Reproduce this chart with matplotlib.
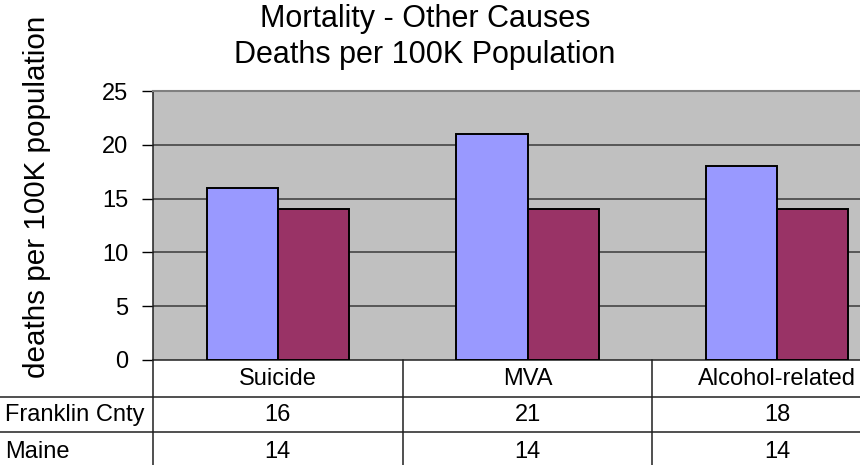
import numpy as np
import matplotlib
matplotlib.use('Agg')
import matplotlib.pyplot as plt
from matplotlib.lines import Line2D

plt.rcParams['font.family'] = ['Liberation Sans', 'DejaVu Sans']

categories = ['Suicide', 'MVA', 'Alcohol-related']
series_names = ['Franklin Cnty', 'Maine']
franklin = [16, 21, 18]
maine = [14, 14, 14]
colors = ['#9999FF', '#993366']
yticks = [0, 5, 10, 15, 20, 25]

W, H = 860, 465
fig = plt.figure(figsize=(W / 100, H / 100), dpi=100)
fig.patch.set_facecolor('white')

# plot area runs off the right edge like the original screenshot
left, right, top, bottom = 153, 902, 91, 360
ax = fig.add_axes([left / W, 1 - bottom / H, (right - left) / W, (bottom - top) / H])
ax.set_facecolor('#C0C0C0')

x = np.arange(len(categories))
bw = 0.285
ax.bar(x - bw / 2, franklin, bw, color=colors[0], edgecolor='black', linewidth=1.4, zorder=3)
ax.bar(x + bw / 2, maine, bw, color=colors[1], edgecolor='black', linewidth=1.4, zorder=3)

ax.set_xlim(-0.5, len(categories) - 0.5)
ax.set_ylim(0, 25)
ax.set_yticks(yticks)
ax.set_yticklabels([str(t) for t in yticks], fontsize=17)
ax.tick_params(axis='y', direction='out', length=8, width=1, pad=10, colors='black')
ax.set_xticks([])
for t in yticks[1:-1]:
    ax.axhline(t, color='#3a3a3a', linewidth=1.1, zorder=1)

ax.spines['right'].set_visible(False)
ax.spines['top'].set_color('#808080')
ax.spines['top'].set_linewidth(1.5)
for s in ['left', 'bottom']:
    ax.spines[s].set_color('#202020')
    ax.spines[s].set_linewidth(1.1)

fig.text(37 / W, 1 - 197 / H, 'deaths per 100K population', fontsize=21.3,
         rotation=90, ha='center', va='center')

fig.text(425 / W, 1 - 19 / H, 'Mortality - Other Causes', fontsize=22,
         ha='center', va='center')
fig.text(425 / W, 1 - 55 / H, 'Deaths per 100K Population', fontsize=22,
         ha='center', va='center')

# data table below the plot
row_lines = [397, 432]
for yl in row_lines:
    fig.add_artist(Line2D([0, 1], [1 - yl / H, 1 - yl / H], color='#202020', linewidth=1.1))
vx = [left] + [left + (i + 1) * (right - left) / len(categories) for i in range(len(categories) - 1)]
for xv in vx:
    fig.add_artist(Line2D([xv / W, xv / W], [1 - bottom / H, 0], color='#202020', linewidth=1.1))

cat_y = 379
row_y = [415, 452]
for i, c in enumerate(categories):
    cx = left + (i + 0.5) * (right - left) / len(categories)
    fig.text(cx / W, 1 - cat_y / H, c, fontsize=17, ha='center', va='center')
    for r, vals in enumerate([franklin, maine]):
        fig.text(cx / W, 1 - row_y[r] / H, str(vals[i]), fontsize=17, ha='center', va='center')
for r, name in enumerate(series_names):
    fig.text(5 / W, 1 - row_y[r] / H, name, fontsize=17, ha='left', va='center')

fig.savefig('out.png', dpi=100)
